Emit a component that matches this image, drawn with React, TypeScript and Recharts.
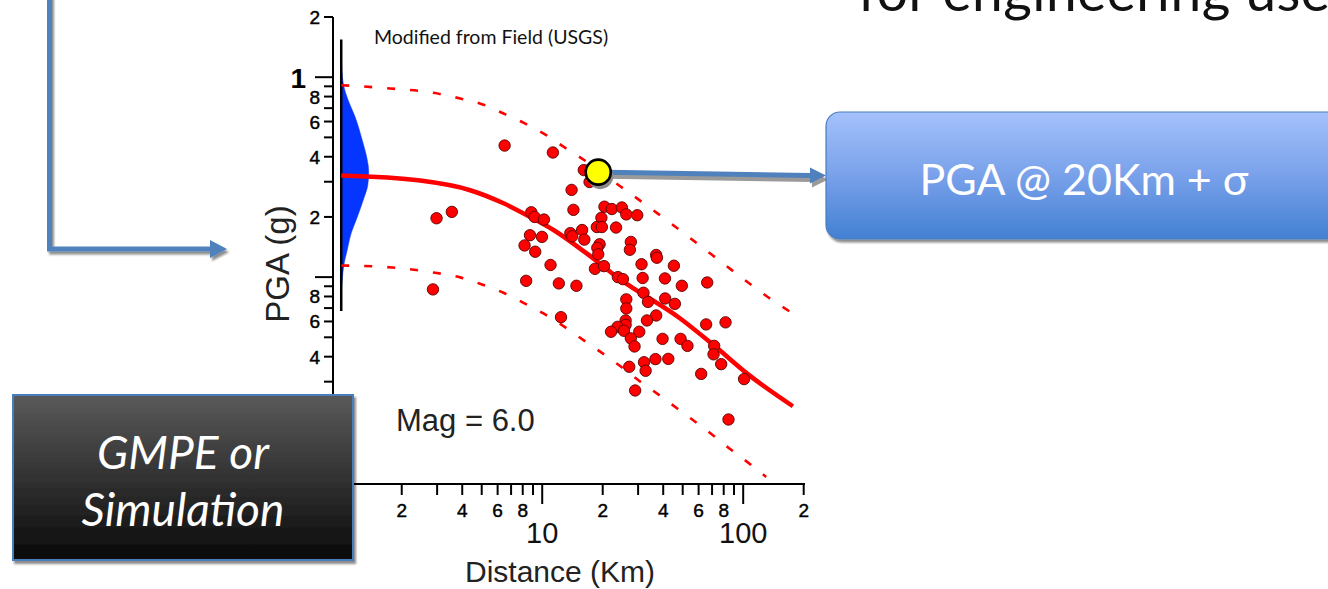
import React from 'react';
import { ComposedChart, XAxis, YAxis, Scatter } from 'recharts';

// ---------- data ----------
const distanceKm = [6.5, 11.3, 16.1, 17.2, 14.0, 14.3, 2.98, 3.55, 8.82, 9.16, 10.2, 20.4, 22.2, 19.7, 24.9, 26.2, 29.7,
  18.7, 19.8, 23.3, 15.8, 13.8, 14.1, 16.2, 8.69, 9.97, 8.17, 9.23, 19.3, 18.8, 19.0, 11.0, 18.3, 20.3, 23.8, 8.32,
  12.1, 14.8, 2.86, 27.6, 27.3, 36.9, 37.2, 45.2, 31.2, 25.2, 31.6, 40.8, 49.5, 66.2, 31.9, 26.2, 40.9, 12.4, 26.2,
  33.6, 45.7, 36.9, 33.2, 26.0, 26.0, 23.7, 22.0, 25.5, 30.4, 27.6, 28.8, 39.7, 48.8, 52.8, 36.6, 42.4, 32.1, 27.1,
  32.7, 29.0, 61.8, 65.4, 81.7, 71.7, 71.2, 77.7, 101, 84.5];
const pgaG = [0.455, 0.42, 0.343, 0.299, 0.273, 0.217, 0.197, 0.212, 0.211, 0.2, 0.194, 0.225, 0.219, 0.198, 0.223, 0.206, 0.204,
  0.178, 0.178, 0.177, 0.172, 0.166, 0.16, 0.154, 0.162, 0.159, 0.144, 0.134, 0.146, 0.14, 0.13, 0.115, 0.11, 0.1135, 0.1, 0.0958,
  0.093, 0.0905, 0.0868, 0.15, 0.137, 0.129, 0.125, 0.114, 0.116, 0.0977, 0.099, 0.0985, 0.0905, 0.094, 0.0835, 0.0774, 0.0782, 0.063, 0.0697,
  0.0752, 0.0735, 0.0643, 0.0607, 0.0607, 0.0577, 0.0564, 0.0533, 0.0539, 0.0533, 0.0494, 0.045, 0.0491, 0.0491, 0.0453, 0.0389, 0.039, 0.0375, 0.0356,
  0.034, 0.0271, 0.0328, 0.058, 0.0594, 0.0453, 0.0411, 0.0367, 0.0309, 0.0194];

const medianDist = [1.0, 2.47, 4.38, 6.42, 8.71, 11.38, 16.69, 24.43, 48.6, 71.2, 104.3, 176.7];
const medianPga = [0.322, 0.304, 0.272, 0.234, 0.2, 0.172, 0.131, 0.0974, 0.0621, 0.0457, 0.033, 0.0226];

const upperDist = [1.0, 1.753, 2.88, 3.91, 5.01, 6.42, 8.14, 10.47, 12.81, 15.63, 24.43, 37.9, 57.7, 87.8, 133.6, 181.4];
const upperPga = [0.912, 0.878, 0.835, 0.782, 0.733, 0.658, 0.589, 0.513, 0.448, 0.394, 0.285, 0.2065, 0.15, 0.1084, 0.0791, 0.0646];

const lowerDist = [1.0, 1.787, 2.935, 3.91, 5.01, 6.42, 8.07, 10.15, 12.76, 16.05, 19.82, 24.43, 30.1, 37.2, 46.8, 57.7, 71.2, 87.8, 108.3, 130.1];
const lowerPga = [0.1144, 0.1118, 0.1051, 0.0997, 0.0919, 0.0835, 0.0744, 0.0658, 0.0569, 0.0484, 0.0418, 0.0359, 0.0305, 0.0262, 0.0221, 0.0189, 0.0161, 0.0136, 0.0116, 0.01];

// distribution drawn along the PGA axis at distance 1 km
const pdfPga = [1.245, 1.084, 0.912, 0.767, 0.631, 0.484, 0.398, 0.335, 0.288, 0.2427, 0.1995, 0.166, 0.1365, 0.1148, 0.0966, 0.0841];
const pdfDist = [1, 1.008, 1.027, 1.083, 1.174, 1.272, 1.339, 1.37, 1.355, 1.286, 1.201, 1.121, 1.071, 1.03, 1.012, 1];
const pdfAxisDist = [1, 1];
const pdfAxisPga = [1.543, 0.0676];

const highlightDist = [19.0];
const highlightPga = [0.335];

// ticks
const xTickValues = [2, 3, 4, 5, 6, 7, 8, 9, 10, 20, 30, 40, 50, 60, 70, 80, 90, 100, 200];
const xSmallValues = [2, 4, 6, 8, 20, 40, 60, 80, 200];
const xSmallLabels = ['2', '4', '6', '8', '2', '4', '6', '8', '2'];
const xMajorValues = [10, 100];
const xMajorLabels = ['10', '100'];

const yTickValues = [2, 1, 0.9, 0.8, 0.7, 0.6, 0.5, 0.4, 0.3, 0.2, 0.1, 0.09, 0.08, 0.07, 0.06, 0.05, 0.04, 0.03, 0.02, 0.01];
const ySmallValues = [2, 0.8, 0.6, 0.4, 0.2, 0.08, 0.06, 0.04, 0.02];
const ySmallLabels = ['2', '8', '6', '4', '2', '8', '6', '4', '2'];
const yMajorValues = [1, 0.1, 0.01];
const yMajorLabels = ['1', '', ''];

const zip = (xs: number[], ys: number[]) => xs.map((x, i) => ({ x, y: ys[i] }));
const records = zip(distanceKm, pgaG);
const median = zip(medianDist, medianPga);
const upper = zip(upperDist, upperPga);
const lower = zip(lowerDist, lowerPga);
const pdf = zip(pdfDist, pdfPga);
const pdfAxis = zip(pdfAxisDist, pdfAxisPga);
const highlight = zip(highlightDist, highlightPga);

// ---------- layout ----------
const CHART_FONT = "'Liberation Sans', Arial, Helvetica, sans-serif";
const SLIDE_FONT = "Lato, 'Open Sans', sans-serif";
const PGA_BOX = { left: 826, top: 112, width: 516, height: 127 };
const GMPE_BOX = { left: 13, top: 395, width: 340, height: 165 };
const ARROW_BLUE = '#4F81BD';

const idx = (arr: number[], v: number) => arr.findIndex((a) => Math.abs(a - v) < 1e-9);

function XTick(props: any) {
  const { x, y, payload } = props;
  const v = payload.value;
  const mi = idx(xMajorValues, v);
  const si = idx(xSmallValues, v);
  return (
    <g>
      <line x1={x} x2={x} y1={y} y2={y + (mi >= 0 ? 20 : 11)} stroke="#000" strokeWidth={2} />
      {si >= 0 && (
        <text x={x} y={y + 33} textAnchor="middle" fontSize={19} fontFamily={CHART_FONT} fill="#000" stroke="#000" strokeWidth={0.45}>{xSmallLabels[si]}</text>
      )}
      {mi >= 0 && (
        <text x={x} y={y + 59} textAnchor="middle" fontSize={29} fontFamily={CHART_FONT} fill="#111">{xMajorLabels[mi]}</text>
      )}
    </g>
  );
}

function YTick(props: any) {
  const { x, y, payload } = props;
  const v = payload.value;
  const mi = idx(yMajorValues, v);
  const si = idx(ySmallValues, v);
  return (
    <g>
      <line x1={x} x2={x - (mi >= 0 ? 18 : 9)} y1={y} y2={y} stroke="#000" strokeWidth={2} />
      {si >= 0 && (
        <text x={x - 13} y={y + 7} textAnchor="end" fontSize={19} fontFamily={CHART_FONT} fill="#000" stroke="#000" strokeWidth={0.45}>{ySmallLabels[si]}</text>
      )}
      {mi >= 0 && yMajorLabels[mi] && (
        <text x={x - 27} y={y + 11} textAnchor="end" fontSize={28} fontWeight="bold" fontFamily={CHART_FONT} fill="#000">{yMajorLabels[mi]}</text>
      )}
    </g>
  );
}

const NoMark = () => <g />;

const Dot = (p: any) => (
  <circle cx={p.cx} cy={p.cy} r={5.7} fill="#FF0000" stroke="#5a0000" strokeWidth={0.9} />
);

const Highlight = (p: any) => {
  const { cx, cy } = p;
  const ex = PGA_BOX.left;
  const ey = PGA_BOX.top + PGA_BOX.height / 2;
  const head = 16;
  return (
    <g>
      <line x1={cx + 8} y1={cy + 4} x2={ex - head + 2} y2={ey + 4} stroke="#9a9a9a" strokeWidth={5} />
      <polygon points={`${ex - head + 2},${ey - 4} ${ex + 2},${ey + 4} ${ex - head + 2},${ey + 12}`} fill="#9a9a9a" />
      <line x1={cx + 8} y1={cy} x2={ex - head} y2={ey} stroke={ARROW_BLUE} strokeWidth={5} />
      <polygon points={`${ex - head},${ey - 8} ${ex},${ey} ${ex - head},${ey + 8}`} fill={ARROW_BLUE} />
      <circle cx={cx + 2} cy={cy + 4} r={13} fill="#8a8a8a" />
      <circle cx={cx} cy={cy} r={12.5} fill="#FFFF00" stroke="#000" strokeWidth={2.6} />
    </g>
  );
};

export default function App() {
  return (
    <div style={{ position: 'absolute', left: 0, top: 0, width: 1328, height: 589, overflow: 'hidden', background: '#fff' }}>
      <ComposedChart
        width={1328}
        height={589}
        margin={{ top: 17, left: 273, right: 523, bottom: 25 }}
        style={{ position: 'absolute', left: 0, top: 0 }}
      >
        <XAxis
          type="number"
          dataKey="x"
          scale="log"
          domain={[0.91, 203]}
          ticks={xTickValues}
          interval={0}
          height={80}
          tickSize={0}
          tickMargin={0}
          tickLine={false}
          axisLine={{ stroke: '#000', strokeWidth: 2 }}
          tick={<XTick />}
        />
        <YAxis
          type="number"
          dataKey="y"
          scale="log"
          domain={[0.00923, 2]}
          ticks={yTickValues}
          interval={0}
          width={60}
          tickSize={0}
          tickMargin={0}
          tickLine={false}
          axisLine={{ stroke: '#000', strokeWidth: 2 }}
          tick={<YTick />}
        />
        <Scatter
          data={pdf}
          fill="#0536FF"
          line={{ fill: '#0536FF', stroke: '#0536FF', strokeWidth: 0.5 }}
          lineJointType="monotoneY"
          shape={NoMark}
          isAnimationActive={false}
        />
        <Scatter
          data={pdfAxis}
          fill="#000"
          line={{ fill: 'none', stroke: '#000', strokeWidth: 2.5 }}
          shape={NoMark}
          isAnimationActive={false}
        />
        <Scatter
          data={upper}
          fill="#FF0000"
          line={{ fill: 'none', stroke: '#FF0000', strokeWidth: 2.6, strokeDasharray: '8 15' }}
          lineJointType="monotoneX"
          shape={NoMark}
          isAnimationActive={false}
        />
        <Scatter
          data={lower}
          fill="#FF0000"
          line={{ fill: 'none', stroke: '#FF0000', strokeWidth: 2.6, strokeDasharray: '8 15' }}
          lineJointType="monotoneX"
          shape={NoMark}
          isAnimationActive={false}
        />
        <Scatter
          data={median}
          fill="#FF0000"
          line={{ fill: 'none', stroke: '#FF0000', strokeWidth: 4.5 }}
          lineJointType="monotoneX"
          shape={NoMark}
          isAnimationActive={false}
        />
        <Scatter data={records} fill="#FF0000" shape={Dot} isAnimationActive={false} />
        <Scatter data={highlight} fill="#FFFF00" shape={Highlight} isAnimationActive={false} />
      </ComposedChart>

      <svg width={1328} height={589} style={{ position: 'absolute', left: 0, top: 0 }}>
        <defs>
          <linearGradient id="blueBox" x1="0" y1="0" x2="0" y2="1">
            <stop offset="0" stopColor="#a4c1fb" />
            <stop offset="0.5" stopColor="#79a1ea" />
            <stop offset="1" stopColor="#4280d2" />
          </linearGradient>
          <linearGradient id="darkBox" x1="0" y1="0" x2="0" y2="1">
            <stop offset="0" stopColor="#5a5a5a" />
            <stop offset="1" stopColor="#0a0a0a" />
          </linearGradient>
          <filter id="shadow" x="-10%" y="-10%" width="130%" height="140%">
            <feDropShadow dx="2" dy="3" stdDeviation="1.2" floodColor="#000" floodOpacity="0.45" />
          </filter>
        </defs>

        {/* title fragment at top right */}
        <text x={858} y={11} fontFamily={SLIDE_FONT} fontSize={55} letterSpacing={0.5} fill="#111">for engineering use</text>

        {/* left connector arrow */}
        <g filter="url(#shadow)">
          <path d="M49.5,-10 L49.5,249 L212,249" fill="none" stroke={ARROW_BLUE} strokeWidth={5} />
          <polygon points="210,240 227,249 210,258" fill={ARROW_BLUE} />
        </g>

        {/* chart labels */}
        <text x={374} y={44} fontFamily={SLIDE_FONT} fontSize={19.5} fill="#111">Modified from Field (USGS)</text>
        <text x={396} y={431} fontFamily={CHART_FONT} fontSize={31} fill="#222">Mag = 6.0</text>
        <text x={560} y={582} textAnchor="middle" fontFamily={CHART_FONT} fontSize={30} fill="#222">Distance (Km)</text>
        <text x={0} y={0} transform="translate(289,264) rotate(-90)" textAnchor="middle" fontFamily={CHART_FONT} fontSize={33} fill="#222">PGA (g)</text>

        {/* PGA box */}
        <g filter="url(#shadow)">
          <rect x={PGA_BOX.left} y={PGA_BOX.top} width={PGA_BOX.width} height={PGA_BOX.height} rx={14} fill="url(#blueBox)" stroke="#4a7ebb" strokeWidth={1.2} />
        </g>
        <text x={PGA_BOX.left + PGA_BOX.width / 2} y={195} textAnchor="middle" fontFamily={SLIDE_FONT} fontSize={43} fill="#fff">PGA @ 20Km + σ</text>

        {/* GMPE box */}
        <g filter="url(#shadow)">
          <rect x={GMPE_BOX.left} y={GMPE_BOX.top} width={GMPE_BOX.width} height={GMPE_BOX.height} fill="url(#darkBox)" stroke="#4a7ebb" strokeWidth={2} />
        </g>
        <text x={GMPE_BOX.left + GMPE_BOX.width / 2} y={469} textAnchor="middle" fontFamily={SLIDE_FONT} fontStyle="italic" fontSize={46} fill="#fff">GMPE or</text>
        <text x={GMPE_BOX.left + GMPE_BOX.width / 2} y={526} textAnchor="middle" fontFamily={SLIDE_FONT} fontStyle="italic" fontSize={46} fill="#fff">Simulation</text>
      </svg>
    </div>
  );
}
